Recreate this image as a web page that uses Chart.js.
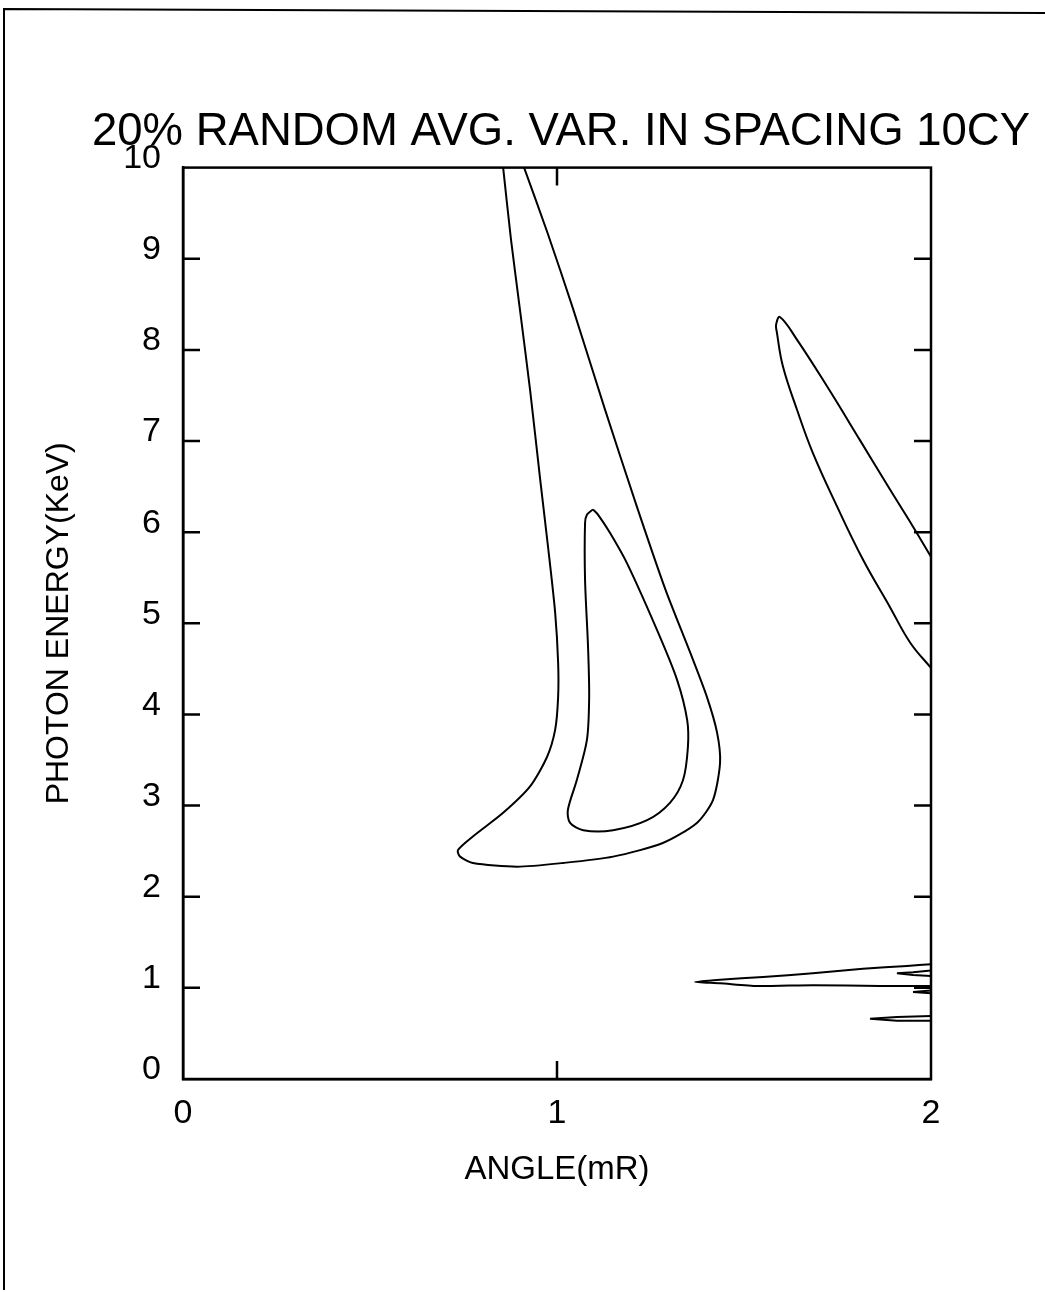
<!DOCTYPE html>
<html><head><meta charset="utf-8">
<script src="https://cdn.jsdelivr.net/npm/chart.js@4/dist/chart.umd.min.js"></script>
<style>html,body{margin:0;padding:0;background:#fff}canvas{display:block}</style>
</head><body>
<canvas id="c" width="1045" height="1292" style="width:1045px;height:1292px"></canvas>
<script>
const titleText = '20% RANDOM AVG. VAR. IN SPACING 10CY';
const xAxisTitle = 'ANGLE(mR)';
const yAxisTitle = 'PHOTON ENERGY(KeV)';
const xTickValues = [0, 1, 2];
const yTickValues = [0, 1, 2, 3, 4, 5, 6, 7, 8, 9, 10];

// Outer contour (open at top edge)
const outerX = [0.856, 0.877, 0.901, 0.928, 0.955, 0.976, 0.995, 1.003, 1.003, 0.995, 0.973, 0.928, 0.856, 0.775, 0.735, 0.741, 0.775, 0.893, 1.016, 1.150, 1.283, 1.374, 1.417, 1.436, 1.428, 1.401, 1.356, 1.290, 1.212, 1.128, 1.043, 0.975, 0.912];
const outerY = [10.0, 9.21, 8.44, 7.56, 6.58, 5.84, 5.12, 4.57, 4.19, 3.83, 3.53, 3.21, 2.92, 2.66, 2.51, 2.44, 2.37, 2.33, 2.37, 2.44, 2.59, 2.81, 3.06, 3.47, 3.80, 4.19, 4.68, 5.37, 6.30, 7.35, 8.45, 9.28, 10.0];

// Inner closed contour
const innerX = [1.096, 1.080, 1.075, 1.075, 1.083, 1.086, 1.080, 1.053, 1.029, 1.035, 1.070, 1.150, 1.241, 1.302, 1.337, 1.350, 1.348, 1.321, 1.267, 1.187, 1.142, 1.110, 1.096];
const innerY = [6.25, 6.19, 6.10, 5.48, 4.74, 4.19, 3.72, 3.28, 2.95, 2.81, 2.73, 2.73, 2.84, 3.03, 3.28, 3.64, 3.94, 4.38, 4.93, 5.66, 5.99, 6.19, 6.25];

// Right contour (open at right edge)
const rightX = [2.0, 1.944, 1.890, 1.818, 1.749, 1.684, 1.642, 1.604, 1.588, 1.586, 1.596, 1.642, 1.722, 1.810, 1.890, 1.952, 2.0];
const rightY = [4.51, 4.79, 5.18, 5.70, 6.28, 6.87, 7.34, 7.82, 8.19, 8.28, 8.36, 8.11, 7.60, 7.01, 6.47, 6.06, 5.73];

// Low-energy lobes at right edge
const lobeAX = [2.0, 1.936, 1.818, 1.684, 1.551, 1.436, 1.369, 1.436, 1.535, 1.684, 1.864, 2.0];
const lobeAY = [1.26, 1.24, 1.21, 1.16, 1.12, 1.09, 1.065, 1.05, 1.02, 1.03, 1.02, 1.02];
const lobeBX = [2.0, 1.952, 1.909, 1.952, 2.0];
const lobeBY = [1.19, 1.17, 1.16, 1.14, 1.13];
const lobeCX = [2.0, 1.952, 2.0];
const lobeCY = [0.97, 0.955, 0.94];
const lobeDX = [2.0, 1.909, 1.837, 1.909, 2.0];
const lobeDY = [0.69, 0.68, 0.66, 0.64, 0.64];

function pts(xs, ys) { return xs.map((x, i) => ({ x: x, y: ys[i] })); }
function curve(xs, ys, tension) {
  return { data: pts(xs, ys), showLine: true, borderColor: '#000', borderWidth: 2, pointRadius: 0, pointHoverRadius: 0, fill: false, tension: tension };
}

const decor = {
  id: 'decor',
  beforeDraw(chart) {
    const ctx = chart.ctx;
    ctx.save();
    ctx.fillStyle = '#fff';
    ctx.fillRect(0, 0, chart.width, chart.height);
    ctx.strokeStyle = '#000';
    ctx.lineWidth = 2;
    ctx.beginPath();
    ctx.moveTo(4, 1290);
    ctx.lineTo(4, 9);
    ctx.lineTo(1045, 13);
    ctx.stroke();
    ctx.restore();
  },
  afterDraw(chart) {
    const ctx = chart.ctx;
    const a = chart.chartArea;
    const xs = chart.scales.x, ys = chart.scales.y;
    ctx.save();
    ctx.strokeStyle = '#000';
    ctx.lineWidth = 2.5;
    ctx.strokeRect(a.left, a.top, a.right - a.left, a.bottom - a.top);
    ctx.beginPath();
    yTickValues.forEach(v => {
      if (v === 0 || v === 10) return;
      const py = ys.getPixelForValue(v);
      ctx.moveTo(a.left, py); ctx.lineTo(a.left + 17, py);
      ctx.moveTo(a.right, py); ctx.lineTo(a.right - 17, py);
    });
    xTickValues.forEach(v => {
      if (v === 0 || v === 2) return;
      const px = xs.getPixelForValue(v);
      ctx.moveTo(px, a.bottom); ctx.lineTo(px, a.bottom - 18);
      ctx.moveTo(px, a.top); ctx.lineTo(px, a.top + 18);
    });
    ctx.stroke();
    ctx.restore();
  }
};

new Chart(document.getElementById('c'), {
  type: 'scatter',
  data: {
    datasets: [
      curve(outerX, outerY, 0.25),
      curve(innerX, innerY, 0.3),
      curve(rightX, rightY, 0.4),
      curve(lobeAX, lobeAY, 0.2),
      curve(lobeBX, lobeBY, 0),
      curve(lobeCX, lobeCY, 0),
      curve(lobeDX, lobeDY, 0)
    ]
  },
  options: {
    responsive: false,
    animation: false,
    devicePixelRatio: 1,
    layout: { padding: { left: 0, right: 15, top: 0, bottom: 0 } },
    plugins: {
      legend: { display: false },
      tooltip: { enabled: false },
      title: {
        display: true, text: titleText, color: '#000', align: 'end',
        font: { family: 'Liberation Sans', size: 45.5, weight: 'normal' },
        padding: { top: 105, bottom: 8 }
      }
    },
    scales: {
      x: {
        type: 'linear', position: 'bottom', min: 0, max: 2,
        afterFit: s => { s.height = 213; },
        afterBuildTicks: s => { s.ticks = xTickValues.map(v => ({ value: v })); },
        grid: { display: false, drawTicks: false },
        border: { display: true, color: '#000', width: 2.5 },
        ticks: { color: '#000', padding: 14, autoSkip: false, maxRotation: 0, font: { family: 'Liberation Sans', size: 34 } },
        title: { display: true, text: xAxisTitle, color: '#000', font: { family: 'Liberation Sans', size: 33 }, padding: { top: 0, bottom: 102 } }
      },
      y: {
        type: 'linear', position: 'left', min: 0, max: 10,
        afterFit: s => { s.width = 183; },
        afterBuildTicks: s => { s.ticks = yTickValues.map(v => ({ value: v })); },
        grid: { display: false, drawTicks: false },
        border: { display: true, color: '#000', width: 2.5 },
        ticks: { color: '#000', padding: 22, labelOffset: -9, autoSkip: false, font: { family: 'Liberation Sans', size: 34 } },
        title: { display: true, text: yAxisTitle, color: '#000', font: { family: 'Liberation Sans', size: 32 }, padding: { top: 40, bottom: 0 } }
      },
      yRight: {
        type: 'linear', position: 'right', min: 0, max: 10,
        afterFit: s => { s.width = 99; },
        grid: { display: false, drawTicks: false },
        border: { display: false },
        ticks: { display: false }
      }
    }
  },
  plugins: [decor]
});
</script>
</body></html>
